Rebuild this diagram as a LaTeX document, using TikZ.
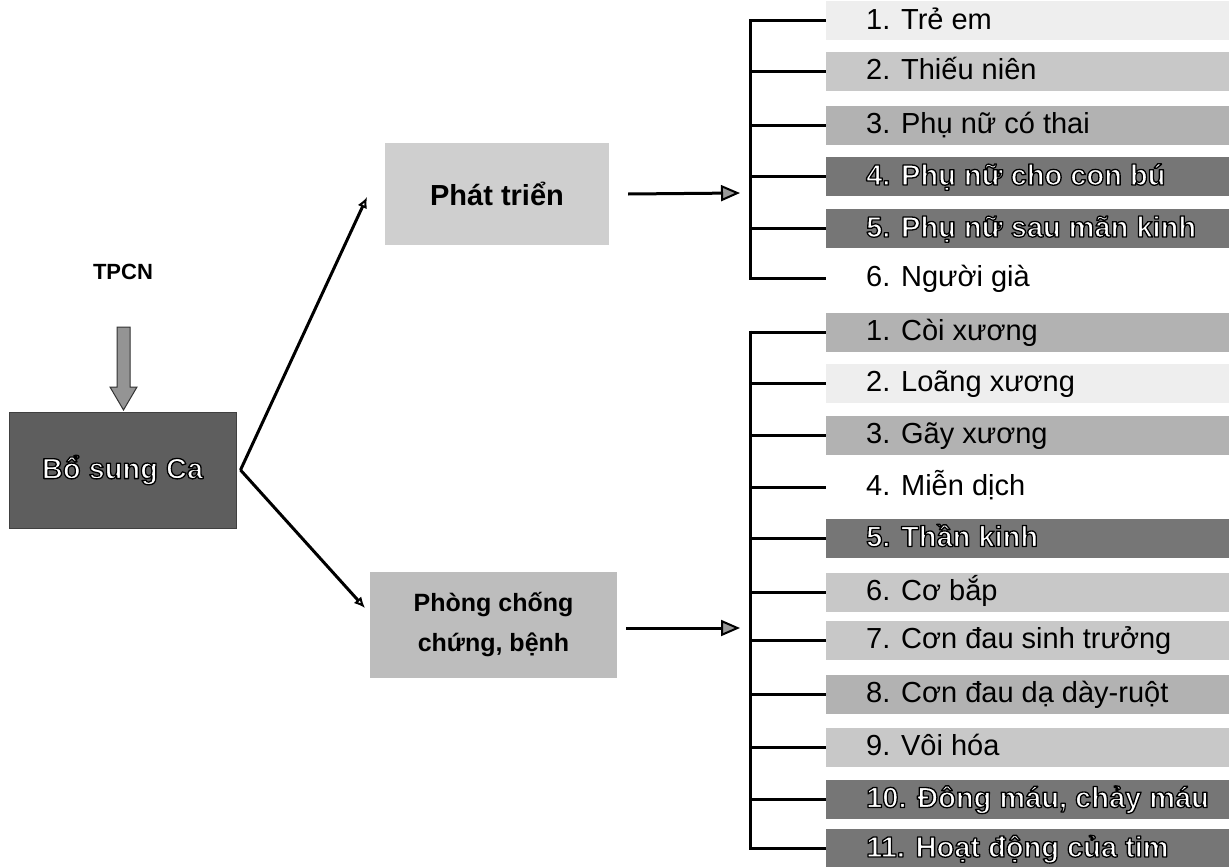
\documentclass[tikz,border=0pt]{standalone}
\usepackage{fontspec}
\setmainfont{Liberation Sans}
\usetikzlibrary{arrows.meta}

% white bold letters with a black rim (PDF text render mode 2: fill, then stroke)
\newcommand\darkitem[1]{{\color{white}%
  \special{pdf:literal direct 0 0 0 RG 2 Tr 1.3 w 1 j}%
  \bfseries #1%
  \special{pdf:literal direct 0 Tr}}}
\newcommand\lightitem[1]{#1}

\definecolor{barpale}{HTML}{EEEEEE}
\definecolor{barlight}{HTML}{C8C8C8}
\definecolor{barmid}{HTML}{B2B2B2}
\definecolor{bardark}{HTML}{767676}
\definecolor{boxdark}{HTML}{5E5E5E}
\definecolor{boxlight}{HTML}{CFCFCF}
\definecolor{boxmid}{HTML}{BDBDBD}

\tikzset{
  listbar/.style={rectangle, anchor=west, inner sep=0pt, minimum width=403pt,
    minimum height=39pt, text height=21pt, text depth=4pt,
    font=\fontsize{29}{34}\selectfont},
  wire/.style={line width=3pt},
  feed/.style={line width=3pt, -{Triangle[length=19pt,width=16pt,fill=black!40,line width=2pt]}},
  branch/.style={line width=3pt, -{Latex[open,length=11pt,width=10pt,line width=2pt]}},
}
% list entry: name, y, fill, label
\newcommand\entry[4]{%
  \node[listbar, fill=#3] (#1) at (826,#2)
    {\makebox[403pt][l]{\hspace*{40pt}#4}};}

\begin{document}
\begin{tikzpicture}[x=1pt, y=-1pt]
  \useasboundingbox (0,0) rectangle (1229,867);
  \fill[white] (0,0) rectangle (1229,867);

  % source and the supplement box
  \node[font=\bfseries\fontsize{22}{26}\selectfont] (tpcn) at (123,272) {TPCN};
  \node[rectangle, fill=boxdark, draw=black!75, line width=1pt,
        minimum width=227pt, minimum height=116pt,
        font=\fontsize{29}{34}\selectfont] (bsc) at (122.5,470)
        {\darkitem{Bổ sung Ca}};
  \filldraw[fill=black!42, draw=black!80, line width=1pt]
    (117,327) -- (130,327) -- (130,387) -- (137,387) -- (123.5,410)
    -- (110,387) -- (117,387) -- cycle;

  % the two purposes
  \node[rectangle, fill=boxlight, minimum width=224pt, minimum height=102pt,
        font=\bfseries\fontsize{29}{34}\selectfont] (pt) at (497,194)
        {Phát triển};
  \node[rectangle, fill=boxmid, minimum width=247pt, minimum height=106pt,
        align=center, font=\bfseries\fontsize{25}{40}\selectfont] (pc) at (493.5,625)
        {Phòng chống\\chứng, bệnh};

  \coordinate (apex) at ([xshift=4pt]bsc.east);
  \coordinate (ptin) at (367,197);
  \coordinate (pcin) at (365,608);
  \draw[branch] (apex) -- (ptin);
  \draw[branch] (apex) -- (pcin);

  % target groups
  \entry{g1}{21}{barpale}{\lightitem{1. Trẻ em}}
  \entry{g2}{71.5}{barlight}{\lightitem{2. Thiếu niên}}
  \entry{g3}{125}{barmid}{\lightitem{3. Phụ nữ có thai}}
  \entry{g4}{176.5}{bardark}{\darkitem{4. Phụ nữ cho con bú}}
  \entry{g5}{228.5}{bardark}{\darkitem{5. Phụ nữ sau mãn kinh}}
  \entry{g6}{278}{white}{6. Người già}

  \coordinate (gtop) at (750,21);
  \coordinate (gbot) at (750,278);
  \coordinate (gin) at (740,193);
  \draw[wire] ([yshift=1.5pt]gtop) -- ([yshift=-1.5pt]gbot);
  \foreach \g in {g1,g2,g3,g4,g5,g6}
    \draw[wire] (750,0 |- \g.west) -- (\g.west);
  \draw[feed] ([xshift=19pt]pt.east) -- (gin);

  % conditions prevented
  \entry{d1}{332}{barmid}{\lightitem{1. Còi xương}}
  \entry{d2}{383}{barpale}{\lightitem{2. Loãng xương}}
  \entry{d3}{435}{barmid}{\lightitem{3. Gãy xương}}
  \entry{d4}{487}{white}{4. Miễn dịch}
  \entry{d5}{538}{bardark}{\darkitem{5. Thần kinh}}
  \entry{d6}{592}{barlight}{\lightitem{6. Cơ bắp}}
  \entry{d7}{640}{barlight}{\lightitem{7. Cơn đau sinh trưởng}}
  \entry{d8}{694}{barmid}{\lightitem{8. Cơn đau dạ dày-ruột}}
  \entry{d9}{747}{barlight}{\lightitem{9. Vôi hóa}}
  \entry{d10}{799}{bardark}{\darkitem{10. Đông máu, chảy máu}}
  \entry{d11}{848.5}{bardark}{\darkitem{11. Hoạt động của tim}}

  \coordinate (dtop) at (750,332);
  \coordinate (dbot) at (750,848.5);
  \coordinate (din) at (740,628);
  \draw[wire] ([yshift=1.5pt]dtop) -- ([yshift=-1.5pt]dbot);
  \foreach \d in {d1,d2,d3,d4,d5,d6,d7,d8,d9,d10,d11}
    \draw[wire] (750,0 |- \d.west) -- (\d.west);
  \draw[feed] ([xshift=9pt]pc.east |- din) -- (din);
\end{tikzpicture}
\end{document}
